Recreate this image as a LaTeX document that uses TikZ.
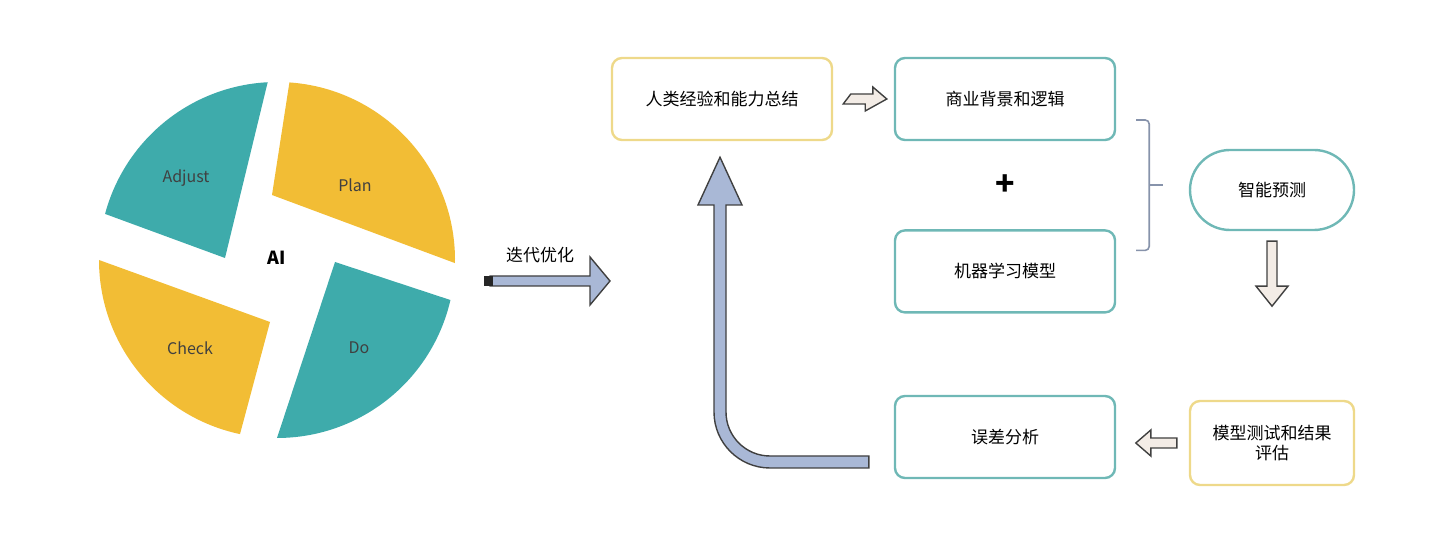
\documentclass[tikz,border=0pt]{standalone}
\usepackage{fontspec}
\setmainfont{Noto Sans CJK SC}
\usetikzlibrary{positioning,calc}
\definecolor{tealc}{HTML}{3EABAB}
\definecolor{goldc}{HTML}{F2BD35}
\definecolor{tealline}{HTML}{6FB8B6}
\definecolor{goldline}{HTML}{EED98A}
\definecolor{beige}{HTML}{F3ECE6}
\definecolor{steel}{HTML}{A9B8D6}
\begin{document}
\begin{tikzpicture}[x=0.5pt, y=0.5pt,
tealbox/.style={rectangle, rounded corners=5pt, draw=tealline, line width=1.2pt, minimum width=110pt, minimum height=41pt, font=\fontsize{8.5}{10}\selectfont},
goldbox/.style={tealbox, draw=goldline},
roundbox/.style={tealbox, rounded corners=20pt, minimum width=82pt, minimum height=40pt},
blockarrow/.style={draw=black!75, line width=0.7pt, fill=beige},
piece/.style={font=\fontsize{8}{10}\selectfont, text=black!75},
]
\useasboundingbox (0,0) rectangle (1440,550);
%Pie
\fill[tealc] (225,292) -- ([shift={(277,290)}]165:178) arc[start angle=165, end angle=93, radius=178] -- cycle;
\fill[goldc] (272,355) -- ([shift={(277,290)}]86:178) arc[start angle=86, end angle=-1, radius=178] -- cycle;
\fill[tealc] (335,288) -- ([shift={(277,290)}]-13:178) arc[start angle=-13, end angle=-90, radius=178] -- cycle;
\fill[goldc] (270,228) -- ([shift={(277,290)}]-102:178) arc[start angle=-102, end angle=-180, radius=178] -- cycle;
\node[piece] (Adjust) at (186,372) {Adjust};
\node[piece] (Plan) at (355,365) {Plan};
\node[piece] (Check) at (190,202) {Check};
\node[piece] (Do) at (359,202) {Do};
\node[font=\fontsize{9}{10}\selectfont\bfseries] (AI) at (277,292) {AI};

%Nodes
\node[goldbox]  (Human)    at (722,451) {人类经验和能力总结};
\node[tealbox, minimum width=110pt]  (Business) at (1005,451) {商业背景和逻辑};
\node[tealbox]  (ML)       [below=44pt of Business] {机器学习模型};
\node[tealbox]  (Error)    at (1005,113) {误差分析};
\node[goldbox, minimum width=82pt, minimum height=42pt, align=center] (Test) at (1272,107) {模型测试和结果\\评估};
\node[roundbox] (Predict)  at (1272,360) {智能预测};
\node[font=\fontsize{16}{16}\selectfont\bfseries] (Plus) at ($(Business)!0.5!(ML)$) {+};
\node[font=\fontsize{8.5}{10}\selectfont] (Iterate) at (540,295) {迭代优化};

%Lines
\draw[draw=steel!80!black, line width=0.8pt, rounded corners=2pt]
  ($(Business.east)+(20,-21)$) -- ++(13,0) -- ($(ML.east)+(33,21)$) -- ++(-13,0);
\draw[draw=steel!80!black, line width=0.8pt] ($(Business.east)!0.5!(ML.east)+(33,0)$) -- ++(14,0);
\draw[blockarrow] ($(Human.east)+(10,-5)$) -- ++(22,0) -- ++(0,-7) -- ($(Business.west)+(-7,0)$) -- ++(-14,12) -- ++(0,-7) -- ++(-22,0) -- cycle;
\draw[blockarrow] ($(Predict.south)+(-5,-10)$) -- ++(0,-45) -- ++(-11,0) -- ++(16,-20) -- ++(16,20) -- ++(-11,0) -- ++(0,45) -- cycle;
\draw[blockarrow] ($(Test.west)+(-12,-5)$) -- ++(-26,0) -- ++(0,-8) -- ++(-15,13) -- ++(15,13) -- ++(0,-8) -- ++(26,0) -- cycle;
\draw[blockarrow, fill=steel] ($(Error.west)+(-25,-31)$) -- (770,82) arc[start angle=270, end angle=180, radius=56]
  -- (714,345) -- (698,345) -- ($(Human.south)+(-2,-16)$) -- (742,345) -- (726,345) -- (726,138)
  arc[start angle=180, end angle=270, radius=44] -- ($(Error.west)+(-25,-19)$) -- cycle;
\draw[blockarrow, fill=steel] (490,264) -- (590,264) -- (590,245) -- (610,269) -- (590,293) -- (590,274) -- (490,274) -- cycle;
\fill[black!85] (484,264) rectangle (493,274);
\end{tikzpicture}
\end{document}
